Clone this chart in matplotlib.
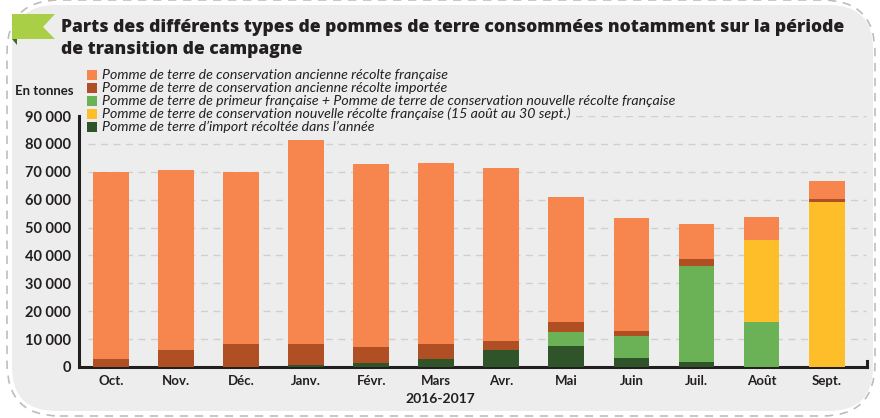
import matplotlib
matplotlib.use("Agg")
import matplotlib.pyplot as plt
from matplotlib.patches import FancyBboxPatch, Polygon, Rectangle
from matplotlib.ticker import FuncFormatter

# --- data (tonnes) ---
mois = ['Oct.', 'Nov.', 'Déc.', 'Janv.', 'Févr.', 'Mars', 'Avr.', 'Mai', 'Juin', 'Juil.', 'Août', 'Sept.']
import_annee = [0, 0, 0, 800, 1600, 2900, 6100, 7500, 3200, 1800, 0, 0]
primeur = [0, 0, 0, 0, 0, 0, 0, 5000, 7900, 34300, 16100, 0]
nouvelle_fr = [0, 0, 0, 0, 0, 0, 0, 0, 0, 0, 29600, 59000]
ancienne_import = [3000, 6100, 8300, 7500, 5600, 5400, 3200, 3600, 1800, 2500, 0, 1400]
ancienne_fr = [67000, 64700, 61700, 73100, 65700, 64900, 62100, 45000, 40700, 12500, 8200, 6400]

legende = [
    'Pomme de terre de conservation ancienne récolte française',
    'Pomme de terre de conservation ancienne récolte importée',
    'Pomme de terre de primeur française + Pomme de terre de conservation nouvelle récolte française',
    'Pomme de terre de conservation nouvelle récolte française (15 août au 30 sept.)',
    'Pomme de terre d\u2019import récoltée dans l\u2019année',
]
couleurs = ['#F6854E', '#B04F24', '#6AB255', '#FDBE29', '#2F5429']

W, H = 880, 418
fig = plt.figure(figsize=(W / 100, H / 100), dpi=100)
fig.patch.set_facecolor('white')
police = 'Lato'

def fx(x):
    return x / W

def fy(y):
    return 1 - y / H

# panel
panel = FancyBboxPatch((fx(12), fy(411)), fx(861), (411 - 5) / H,
                       boxstyle="round,pad=0,rounding_size=0.05",
                       transform=fig.transFigure, facecolor='#EDEDED',
                       edgecolor='none', zorder=-3, mutation_aspect=2.1)
fig.patches.append(panel)
border = FancyBboxPatch((fx(7), fy(416)), fx(868), (416 - 0) / H,
                        boxstyle="round,pad=0,rounding_size=0.06",
                        transform=fig.transFigure, facecolor='none',
                        edgecolor='#BDBDBD', lw=1.2, ls=(0, (5, 4)), zorder=-2,
                        mutation_aspect=2.1)
fig.patches.append(border)

# flag
flag = Polygon([(fx(12), fy(14)), (fx(55), fy(14)), (fx(43), fy(27)), (fx(55), fy(39)),
                (fx(12), fy(39))], closed=True, transform=fig.transFigure,
               facecolor='#A9CF46', edgecolor='none', zorder=1)
fold = Polygon([(fx(12), fy(39)), (fx(17), fy(39)), (fx(17), fy(45))], closed=True,
               transform=fig.transFigure, facecolor='#3C6B2A', edgecolor='none', zorder=1)
fig.patches.extend([flag, fold])

for ligne, yy in [('Parts des différents types de pommes de terre consommées notamment sur la période', 27),
                  ('de transition de campagne', 50)]:
    fig.text(fx(61), fy(yy), ligne, family='Open Sans', stretch='condensed', weight='heavy',
             fontsize=12.6, color='#231F20', va='center', ha='left')

# axes
ax = fig.add_axes([fx(79), fy(367), fx(867 - 79), (367 - 116) / H])
ax.set_facecolor('none')
x = range(len(mois))
bw = 0.55
bas = [0] * len(mois)
for vals, col in [(import_annee, couleurs[4]), (primeur, couleurs[2]), (nouvelle_fr, couleurs[3]),
                  (ancienne_import, couleurs[1]), (ancienne_fr, couleurs[0])]:
    ax.bar(x, vals, bw, bottom=bas, color=col, zorder=3)
    bas = [b + v for b, v in zip(bas, vals)]

ax.set_ylim(0, 90000)
ax.set_xlim(-0.49, 11.62)
ax.set_yticks(range(0, 90001, 10000))
ax.yaxis.set_major_formatter(FuncFormatter(lambda v, p: f'{int(v):,}'.replace(',', ' ')))
ax.set_xticks(list(x))
ax.set_xticklabels(mois)
for g in range(10000, 90001, 10000):
    ax.plot([-0.35, 11.6], [g, g], color='#CFCFCF', lw=1, ls=(0, (5, 4)), zorder=1)

ax.tick_params(axis='y', length=0, pad=6, labelsize=10.5, labelcolor='#231F20')
ax.tick_params(axis='x', length=0, pad=6, labelsize=9.5, labelcolor='#231F20')
for lab in ax.get_yticklabels() + ax.get_xticklabels():
    lab.set_family(police)
    lab.set_weight('bold')
for s in ['top', 'right']:
    ax.spines[s].set_visible(False)
ax.spines['left'].set_linewidth(2.2)
ax.spines['bottom'].set_linewidth(2.2)
ax.spines['left'].set_color('#231F20')
ax.spines['bottom'].set_color('#231F20')
ax.plot([11.62, 11.62], [0, 2000], color='#231F20', lw=2.2, clip_on=False, zorder=4)

fig.text(fx(440), fy(399), '2016-2017', family=police, weight='bold',
         fontsize=10, color='#231F20', ha='center', va='center')
fig.text(fx(15), fy(91), 'En tonnes', family=police, weight='bold',
         fontsize=9.5, color='#231F20', ha='left', va='center')

# legend
leg_bg = Rectangle((fx(84), fy(133)), fx(492), (133 - 68) / H, transform=fig.transFigure,
                   facecolor='#EDEDED', edgecolor='none', zorder=5)
fig.patches.append(leg_bg)
for i, (txt, col) in enumerate(zip(legende, couleurs)):
    yc = 75 + i * 13
    fig.patches.append(Rectangle((fx(87), fy(yc + 5)), fx(10), 10 / H, transform=fig.transFigure,
                                 facecolor=col, edgecolor='none', zorder=6))
    fig.text(fx(102), fy(yc), txt, family=police, style='italic',
             fontsize=10.2, color='#231F20', ha='left', va='center', zorder=7)

fig.savefig('out.png', dpi=100, facecolor='white')
